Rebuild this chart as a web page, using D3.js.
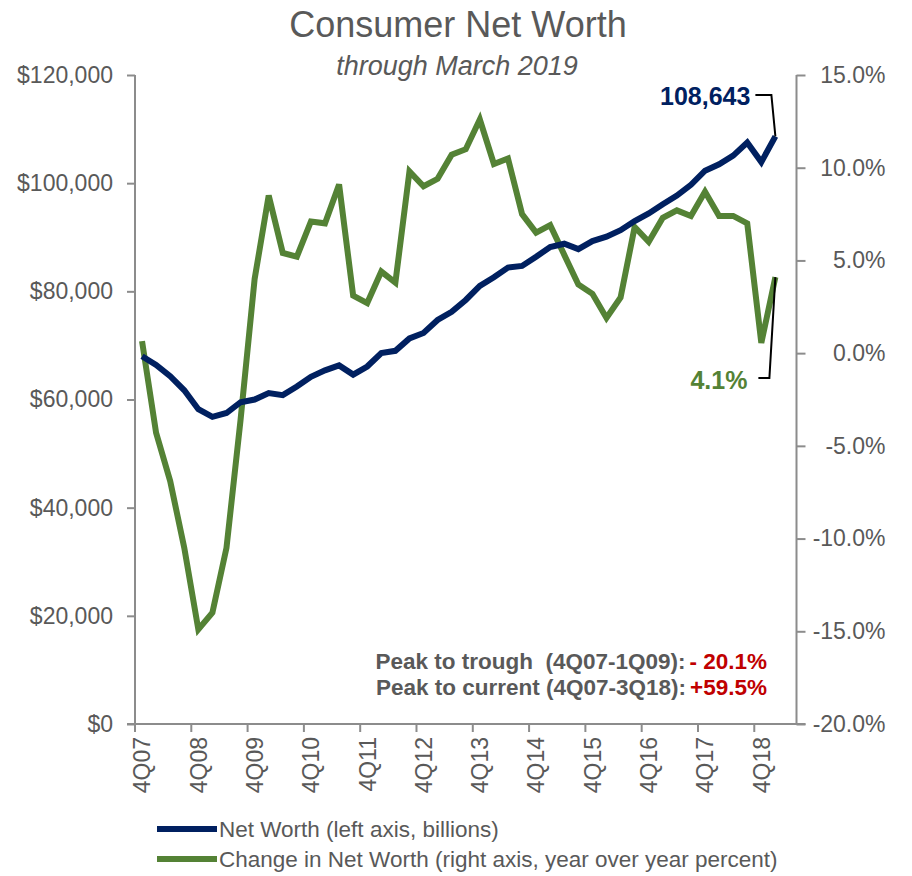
<!DOCTYPE html>
<html>
<head>
<meta charset="utf-8">
<script src="https://cdn.jsdelivr.net/npm/d3@7"></script>
<style>
  html, body { margin: 0; padding: 0; background: #ffffff; }
  svg { display: block; }
  text { font-family: "Liberation Sans", Arial, sans-serif; }
</style>
</head>
<body>
<svg id="chart" width="912" height="876"></svg>
<script>
// Quarterly categories (the last one is left empty on purpose)
const quarters = [
  "4Q07","1Q08","2Q08","3Q08","4Q08","1Q09","2Q09","3Q09","4Q09","1Q10","2Q10","3Q10",
  "4Q10","1Q11","2Q11","3Q11","4Q11","1Q12","2Q12","3Q12","4Q12","1Q13","2Q13","3Q13",
  "4Q13","1Q14","2Q14","3Q14","4Q14","1Q15","2Q15","3Q15","4Q15","1Q16","2Q16","3Q16",
  "4Q16","1Q17","2Q17","3Q17","4Q17","1Q18","2Q18","3Q18","4Q18","1Q19","2Q19"
];

// Household net worth, billions of dollars (4Q07 .. 1Q19)
const netWorth = [
  68000, 66400, 64300, 61700, 58200, 56800, 57500, 59500, 60000, 61200, 60800, 62400,
  64200, 65400, 66300, 64600, 66100, 68600, 69000, 71300, 72300, 74700, 76200, 78400,
  81000, 82600, 84400, 84700, 86400, 88200, 88800, 87800, 89300, 90100, 91300, 93000,
  94400, 96100, 97700, 99700, 102300, 103500, 105100, 107500, 103900, 108643
];

// Year-over-year change in net worth, percent (4Q07 .. 1Q19)
const yoyChange = [
  0.65, -4.3, -6.9, -10.5, -14.9, -14.0, -10.5, -3.6, 4.0, 8.5, 5.4, 5.2,
  7.1, 7.0, 9.1, 3.1, 2.7, 4.4, 3.8, 9.8, 9.0, 9.4, 10.7, 11.0,
  12.6, 10.2, 10.5, 7.5, 6.5, 6.9, 5.3, 3.7, 3.2, 1.9, 3.0, 6.8,
  6.0, 7.3, 7.7, 7.4, 8.7, 7.4, 7.4, 7.0, 0.55, 4.1
];

const xTickLabels = ["4Q07","4Q08","4Q09","4Q10","4Q11","4Q12","4Q13","4Q14","4Q15","4Q16","4Q17","4Q18"];
const leftTicks = [0, 20000, 40000, 60000, 80000, 100000, 120000];
const rightTicks = [-20, -15, -10, -5, 0, 5, 10, 15];

const seriesNames = [
  "Net Worth (left axis, billions)",
  "Change in Net Worth (right axis, year over year percent)"
];
const summaryLines = [
  { label: "Peak to trough  (4Q07-1Q09):", value: "- 20.1%" },
  { label: "Peak to current (4Q07-3Q18):", value: "+59.5%" }
];

const NAVY = "#002060";
const GREEN = "#548235";
const GREY = "#595959";
const AXIS = "#8c8c8c";

const svg = d3.select("#chart");

const plot = { left: 135, right: 796.5, top: 75, bottom: 724 };

const x = d3.scaleBand().domain(quarters).range([plot.left, plot.right]).padding(0);
const bw = x.bandwidth();
const cx = d => x(d) + bw / 2;

const yLeft = d3.scaleLinear().domain([0, 120000]).range([plot.bottom, plot.top]);
const yRight = d3.scaleLinear().domain([-20, 15]).range([plot.bottom, plot.top]);

// Title
svg.append("text")
  .attr("x", 458).attr("y", 37)
  .attr("text-anchor", "middle")
  .attr("font-size", 36)
  .attr("fill", GREY)
  .text("Consumer Net Worth");

svg.append("text")
  .attr("x", 457).attr("y", 75)
  .attr("text-anchor", "middle")
  .attr("font-size", 27)
  .attr("font-style", "italic")
  .attr("fill", GREY)
  .text("through March 2019");

// Left axis
const gLeft = svg.append("g")
  .attr("transform", `translate(${plot.left},0)`)
  .call(d3.axisLeft(yLeft).tickValues(leftTicks).tickSize(8).tickPadding(14)
    .tickFormat(d => "$" + d3.format(",")(d)));

// Right axis (plain hyphen for negatives)
const gRight = svg.append("g")
  .attr("transform", `translate(${plot.right},0)`)
  .call(d3.axisRight(yRight).tickValues(rightTicks).tickSize(9).tickPadding(0)
    .tickFormat(d => d.toFixed(1) + "%"));
gRight.selectAll(".tick text").attr("text-anchor", "end").attr("x", 89);

// Bottom axis: ticks on category boundaries, labels on category centres
const gBottom = svg.append("g")
  .attr("transform", `translate(0,${plot.bottom})`)
  .call(d3.axisBottom(x).tickValues(xTickLabels).tickSize(8).tickSizeOuter(0));
gBottom.selectAll(".tick line").attr("x1", -bw / 2).attr("x2", -bw / 2);
gBottom.selectAll(".tick text")
  .attr("transform", "rotate(-90)")
  .attr("text-anchor", "end")
  .attr("x", -13)
  .attr("y", 0)
  .attr("dy", "0.36em");

[gLeft, gRight, gBottom].forEach(g => {
  g.select(".domain").attr("stroke", AXIS).attr("stroke-width", 2);
  g.selectAll(".tick line").attr("stroke", AXIS).attr("stroke-width", 2);
  g.selectAll(".tick text").attr("fill", GREY).attr("font-size", 23)
    .attr("font-family", "'Liberation Sans', Arial, sans-serif");
});
gBottom.selectAll(".tick text").attr("font-size", 23);
gLeft.select(".domain").attr("d", `M0,${plot.top}V${plot.bottom}`);
gRight.select(".domain").attr("d", `M0,${plot.top}V${plot.bottom}`);
gBottom.select(".domain").attr("d", `M${plot.left - 8},0H${plot.right + 9}`);

// Lines
const nwLine = d3.line()
  .x((d, i) => cx(quarters[i]))
  .y(d => yLeft(d));
const chLine = d3.line()
  .x((d, i) => cx(quarters[i]))
  .y(d => yRight(d));

svg.append("path").datum(yoyChange)
  .attr("d", chLine)
  .attr("fill", "none")
  .attr("stroke", GREEN)
  .attr("stroke-width", 6)
  .attr("stroke-linejoin", "miter");

svg.append("path").datum(netWorth)
  .attr("d", nwLine)
  .attr("fill", "none")
  .attr("stroke", NAVY)
  .attr("stroke-width", 6)
  .attr("stroke-linejoin", "miter");

// Callouts for the latest values
const last = netWorth.length - 1;
const lx = cx(quarters[last]);
const nwY = yLeft(netWorth[last]);
const chY = yRight(yoyChange[last]);

svg.append("path")
  .attr("d", `M${lx - 20},95H${lx - 4}L${lx},${nwY}`)
  .attr("fill", "none").attr("stroke", "#000").attr("stroke-width", 2);
svg.append("text")
  .attr("x", lx - 25).attr("y", 105)
  .attr("text-anchor", "end")
  .attr("font-family", "Lato, 'Open Sans', sans-serif")
  .attr("font-weight", "bold")
  .attr("font-size", 25)
  .attr("fill", NAVY)
  .text(d3.format(",")(netWorth[last]));

svg.append("path")
  .attr("d", `M${lx - 17},378H${lx - 6}L${lx},${chY}`)
  .attr("fill", "none").attr("stroke", "#000").attr("stroke-width", 2);
svg.append("text")
  .attr("x", lx - 28).attr("y", 389)
  .attr("text-anchor", "end")
  .attr("font-family", "Lato, 'Open Sans', sans-serif")
  .attr("font-weight", "bold")
  .attr("font-size", 25)
  .attr("fill", GREEN)
  .text(yoyChange[last].toFixed(1) + "%");

// Summary text
summaryLines.forEach((s, i) => {
  const t = svg.append("text")
    .attr("x", 767).attr("y", 669 + i * 26)
    .attr("text-anchor", "end")
    .attr("font-weight", "bold")
    .attr("font-size", 22.5)
    .attr("xml:space", "preserve");
  t.append("tspan").attr("fill", GREY).text(s.label);
  t.append("tspan").attr("fill", "#c00000").attr("dx", 4).text(s.value);
});

// Legend
const legend = svg.append("g");
[NAVY, GREEN].forEach((c, i) => {
  const y = 829 + i * 30;
  legend.append("line")
    .attr("x1", 157).attr("x2", 217).attr("y1", y).attr("y2", y)
    .attr("stroke", c).attr("stroke-width", 6);
  legend.append("text")
    .attr("x", 219).attr("y", y + 8)
    .attr("font-size", 22.5)
    .attr("fill", GREY)
    .text(seriesNames[i]);
});
</script>
</body>
</html>
